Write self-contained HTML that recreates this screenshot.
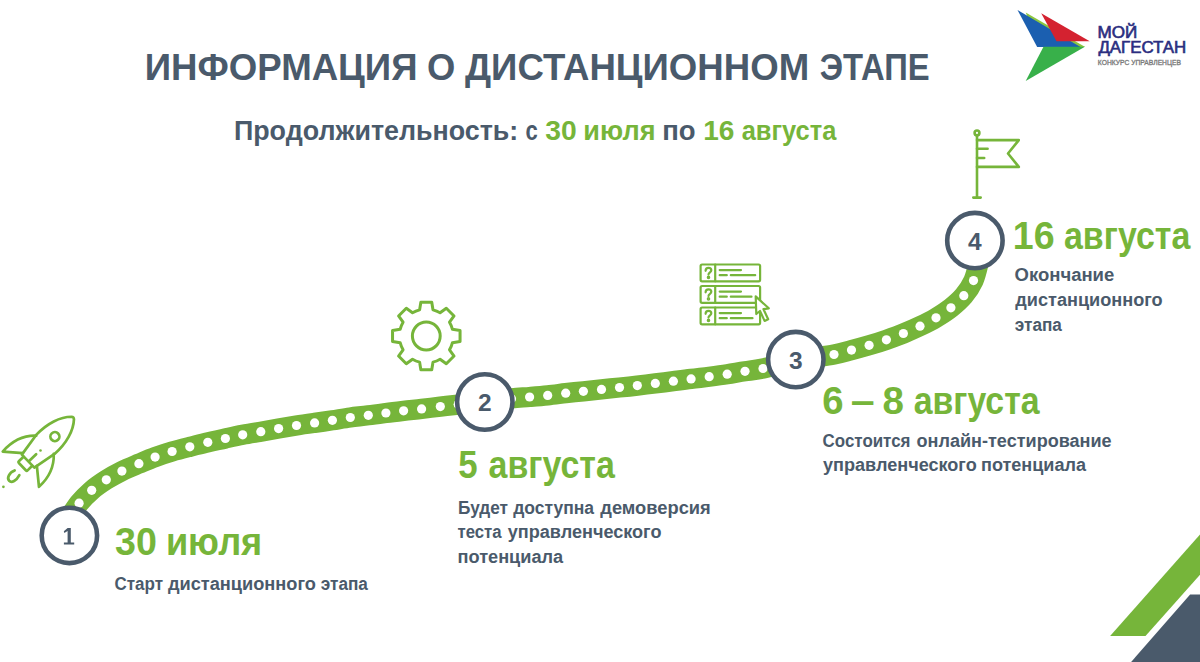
<!DOCTYPE html>
<html><head><meta charset="utf-8"><style>
html,body{margin:0;padding:0;background:#fff;width:1200px;height:662px;overflow:hidden}
svg{display:block}
text{font-family:"Liberation Sans",sans-serif;font-weight:bold}
</style></head><body>
<svg width="1200" height="662" viewBox="0 0 1200 662">
<path d="M67.5,520.5 C69.4,517.6 75.1,508.2 79.1,503.2 C83.1,498.2 87.2,494.2 91.7,490.3 C96.2,486.4 101.3,483.0 106.3,479.8 C111.3,476.6 116.5,473.8 121.9,471.1 C127.3,468.4 133.4,466.0 138.9,463.7 C144.4,461.4 149.6,459.1 155.1,457.1 C160.6,455.1 166.3,453.2 172.1,451.5 C177.9,449.8 183.9,448.3 189.8,446.8 C195.8,445.3 201.9,443.7 207.8,442.3 C213.7,440.9 219.6,439.8 225.4,438.5 C231.2,437.2 236.8,435.9 242.7,434.8 C248.6,433.7 254.8,432.7 260.8,431.7 C266.8,430.7 272.7,429.6 278.6,428.6 C284.6,427.6 290.5,426.5 296.5,425.5 C302.5,424.5 308.6,423.7 314.6,422.9 C320.6,422.0 326.4,421.2 332.4,420.3 C338.3,419.4 344.3,418.3 350.3,417.5 C356.3,416.7 362.4,416.1 368.3,415.3 C374.2,414.6 380.0,413.8 385.9,413.0 C391.8,412.2 397.7,411.5 403.6,410.8 C409.6,410.1 415.5,409.6 421.6,408.9 C427.7,408.2 434.2,407.4 440.3,406.6 C446.4,405.9 450.9,405.4 458.3,404.6 C465.7,403.8 475.9,402.7 484.8,401.6 C493.7,400.6 504.0,399.1 511.5,398.3 C519.0,397.5 523.6,397.5 529.6,397.0 C535.6,396.5 541.7,396.0 547.7,395.4 C553.7,394.8 559.8,393.9 565.7,393.2 C571.7,392.5 577.4,391.9 583.4,391.3 C589.4,390.7 595.5,390.0 601.5,389.4 C607.5,388.8 613.5,388.1 619.5,387.5 C625.5,386.9 631.3,386.3 637.3,385.6 C643.3,384.9 649.3,384.1 655.3,383.4 C661.3,382.7 667.4,381.9 673.4,381.2 C679.4,380.4 685.1,379.6 691.1,378.9 C697.1,378.1 703.2,377.5 709.2,376.7 C715.2,375.9 721.2,375.1 727.2,374.2 C733.2,373.3 739.0,372.2 745.0,371.3 C751.0,370.4 754.5,370.3 763.0,368.5 C771.5,366.7 784.0,362.8 795.8,360.5 C807.6,358.2 824.7,356.2 834.0,354.5 C843.3,352.8 845.6,351.6 851.5,350.1 C857.4,348.6 863.3,347.0 869.1,345.3 C874.9,343.6 880.7,341.8 886.4,339.8 C892.1,337.8 897.8,335.8 903.4,333.5 C909.0,331.2 914.6,328.8 920.0,326.2 C925.4,323.6 930.9,320.9 936.0,317.8 C941.1,314.7 946.3,311.5 950.9,307.8 C955.5,304.1 960.0,300.2 963.8,295.7 C967.6,291.2 971.0,286.2 973.5,280.6 C976.0,275.0 977.6,267.1 978.8,262.0 C980.0,256.9 980.2,252.0 980.5,250.0" fill="none" stroke="#76b53a" stroke-width="20.3"/>
<g fill="#fff"><circle cx="79.1" cy="503.2" r="4.6"/><circle cx="91.7" cy="490.3" r="4.6"/><circle cx="106.3" cy="479.8" r="4.6"/><circle cx="121.9" cy="471.1" r="4.6"/><circle cx="138.9" cy="463.7" r="4.6"/><circle cx="155.1" cy="457.1" r="4.6"/><circle cx="172.1" cy="451.5" r="4.6"/><circle cx="189.8" cy="446.8" r="4.6"/><circle cx="207.8" cy="442.3" r="4.6"/><circle cx="225.4" cy="438.5" r="4.6"/><circle cx="242.7" cy="434.8" r="4.6"/><circle cx="260.8" cy="431.7" r="4.6"/><circle cx="278.6" cy="428.6" r="4.6"/><circle cx="296.5" cy="425.5" r="4.6"/><circle cx="314.6" cy="422.9" r="4.6"/><circle cx="332.4" cy="420.3" r="4.6"/><circle cx="350.3" cy="417.5" r="4.6"/><circle cx="368.3" cy="415.3" r="4.6"/><circle cx="385.9" cy="413.0" r="4.6"/><circle cx="403.6" cy="410.8" r="4.6"/><circle cx="421.6" cy="408.9" r="4.6"/><circle cx="440.3" cy="406.6" r="4.6"/><circle cx="458.3" cy="404.6" r="4.6"/><circle cx="529.6" cy="397.0" r="4.6"/><circle cx="547.7" cy="395.4" r="4.6"/><circle cx="565.7" cy="393.2" r="4.6"/><circle cx="583.4" cy="391.3" r="4.6"/><circle cx="601.5" cy="389.4" r="4.6"/><circle cx="619.5" cy="387.5" r="4.6"/><circle cx="637.3" cy="385.6" r="4.6"/><circle cx="655.3" cy="383.4" r="4.6"/><circle cx="673.4" cy="381.2" r="4.6"/><circle cx="691.1" cy="378.9" r="4.6"/><circle cx="709.2" cy="376.7" r="4.6"/><circle cx="727.2" cy="374.2" r="4.6"/><circle cx="745.0" cy="371.3" r="4.6"/><circle cx="763.0" cy="368.5" r="4.6"/><circle cx="834.0" cy="354.5" r="4.6"/><circle cx="851.5" cy="350.1" r="4.6"/><circle cx="869.1" cy="345.3" r="4.6"/><circle cx="886.4" cy="339.8" r="4.6"/><circle cx="903.4" cy="333.5" r="4.6"/><circle cx="920.0" cy="326.2" r="4.6"/><circle cx="936.0" cy="317.8" r="4.6"/><circle cx="950.9" cy="307.8" r="4.6"/><circle cx="963.8" cy="295.7" r="4.6"/><circle cx="973.5" cy="280.6" r="4.6"/><circle cx="458.3" cy="404.6" r="4.6"/><circle cx="511.5" cy="398.8" r="4.6"/></g>
<circle cx="69.4" cy="535.4" r="27.7" fill="#fff" stroke="#4a5a6b" stroke-width="4.6"/><polygon points="67.6,528 70.8,528 70.8,542.5 74.2,542.5 74.2,544.6 63.9,544.6 63.9,542.5 67.6,542.5 67.6,531 64.4,533.1 63.8,531.3" fill="#4a5a6b"/><circle cx="484.8" cy="402.0" r="27.7" fill="#fff" stroke="#4a5a6b" stroke-width="4.6"/><text x="484.8" y="411.0" font-size="24.5" text-anchor="middle" fill="#4a5a6b">2</text><circle cx="795.8" cy="359.6" r="27.7" fill="#fff" stroke="#4a5a6b" stroke-width="4.6"/><text x="795.8" y="368.6" font-size="24.5" text-anchor="middle" fill="#4a5a6b">3</text><circle cx="974.9" cy="240.6" r="27.7" fill="#fff" stroke="#4a5a6b" stroke-width="4.6"/><text x="974.9" y="249.6" font-size="24.5" text-anchor="middle" fill="#4a5a6b">4</text>
<text x="144.76" y="80.30" font-size="37.60" textLength="272.70" lengthAdjust="spacingAndGlyphs" fill="#4a5a6b" >ИНФОРМАЦИЯ</text>
<text x="426.99" y="80.30" font-size="37.60" textLength="28.29" lengthAdjust="spacingAndGlyphs" fill="#4a5a6b" >О</text>
<text x="465.01" y="80.30" font-size="37.60" textLength="344.15" lengthAdjust="spacingAndGlyphs" fill="#4a5a6b" >ДИСТАНЦИОННОМ</text>
<text x="819.76" y="80.30" font-size="37.60" textLength="109.94" lengthAdjust="spacingAndGlyphs" fill="#4a5a6b" >ЭТАПЕ</text>
<text x="233.93" y="140.00" font-size="28.00" textLength="284.34" lengthAdjust="spacingAndGlyphs" fill="#4a5a6b" >Продолжительность:</text>
<text x="525.43" y="140.00" font-size="28.00" textLength="12.25" lengthAdjust="spacingAndGlyphs" fill="#4a5a6b" >с</text>
<text x="545.31" y="140.00" font-size="28.00" textLength="31.46" lengthAdjust="spacingAndGlyphs" fill="#76b53a" >30</text>
<text x="583.33" y="140.00" font-size="28.00" textLength="72.15" lengthAdjust="spacingAndGlyphs" fill="#76b53a" >июля</text>
<text x="662.18" y="140.00" font-size="28.00" textLength="33.40" lengthAdjust="spacingAndGlyphs" fill="#4a5a6b" >по</text>
<text x="703.23" y="140.00" font-size="28.00" textLength="31.20" lengthAdjust="spacingAndGlyphs" fill="#76b53a" >16</text>
<text x="741.63" y="140.00" font-size="28.00" textLength="94.72" lengthAdjust="spacingAndGlyphs" fill="#76b53a" >августа</text>
<text x="115.09" y="554.80" font-size="38.30" textLength="41.87" lengthAdjust="spacingAndGlyphs" fill="#76b53a" >30</text>
<text x="165.89" y="554.80" font-size="38.30" textLength="96.37" lengthAdjust="spacingAndGlyphs" fill="#76b53a" >июля</text>
<text x="458.28" y="477.80" font-size="38.30" textLength="19.36" lengthAdjust="spacingAndGlyphs" fill="#76b53a" >5</text>
<text x="488.57" y="477.80" font-size="38.30" textLength="126.32" lengthAdjust="spacingAndGlyphs" fill="#76b53a" >августа</text>
<text x="822.29" y="413.50" font-size="38.30" textLength="21.31" lengthAdjust="spacingAndGlyphs" fill="#76b53a" >6</text>
<text x="850.70" y="413.50" font-size="38.30" textLength="23.94" lengthAdjust="spacingAndGlyphs" fill="#76b53a" >–</text>
<text x="882.47" y="413.50" font-size="38.30" textLength="21.44" lengthAdjust="spacingAndGlyphs" fill="#76b53a" >8</text>
<text x="913.68" y="413.50" font-size="38.30" textLength="125.91" lengthAdjust="spacingAndGlyphs" fill="#76b53a" >августа</text>
<text x="1012.83" y="248.80" font-size="38.30" textLength="41.79" lengthAdjust="spacingAndGlyphs" fill="#76b53a" >16</text>
<text x="1063.97" y="248.80" font-size="38.30" textLength="126.42" lengthAdjust="spacingAndGlyphs" fill="#76b53a" >августа</text>
<text x="114.50" y="589.60" font-size="19.20" textLength="48.48" lengthAdjust="spacingAndGlyphs" fill="#4a5a6b" >Старт</text>
<text x="167.90" y="589.60" font-size="19.20" textLength="148.08" lengthAdjust="spacingAndGlyphs" fill="#4a5a6b" >дистанционного</text>
<text x="320.72" y="589.60" font-size="19.20" textLength="47.16" lengthAdjust="spacingAndGlyphs" fill="#4a5a6b" >этапа</text>
<text x="458.05" y="513.60" font-size="19.20" textLength="49.95" lengthAdjust="spacingAndGlyphs" fill="#4a5a6b" >Будет</text>
<text x="513.18" y="513.60" font-size="19.20" textLength="80.94" lengthAdjust="spacingAndGlyphs" fill="#4a5a6b" >доступна</text>
<text x="600.27" y="513.60" font-size="19.20" textLength="110.47" lengthAdjust="spacingAndGlyphs" fill="#4a5a6b" >демоверсия</text>
<text x="457.52" y="538.00" font-size="19.20" textLength="44.07" lengthAdjust="spacingAndGlyphs" fill="#4a5a6b" >теста</text>
<text x="507.73" y="538.00" font-size="19.20" textLength="153.74" lengthAdjust="spacingAndGlyphs" fill="#4a5a6b" >управленческого</text>
<text x="457.55" y="563.00" font-size="19.20" textLength="105.59" lengthAdjust="spacingAndGlyphs" fill="#4a5a6b" >потенциала</text>
<text x="822.62" y="446.60" font-size="19.20" textLength="87.85" lengthAdjust="spacingAndGlyphs" fill="#4a5a6b" >Состоится</text>
<text x="916.59" y="446.60" font-size="19.20" textLength="195.06" lengthAdjust="spacingAndGlyphs" fill="#4a5a6b" >онлайн-тестирование</text>
<text x="823.03" y="471.10" font-size="19.20" textLength="153.69" lengthAdjust="spacingAndGlyphs" fill="#4a5a6b" >управленческого</text>
<text x="981.06" y="471.10" font-size="19.20" textLength="104.93" lengthAdjust="spacingAndGlyphs" fill="#4a5a6b" >потенциала</text>
<text x="1014.54" y="281.00" font-size="19.20" textLength="99.74" lengthAdjust="spacingAndGlyphs" fill="#4a5a6b" >Окончание</text>
<text x="1015.30" y="305.70" font-size="19.20" textLength="147.28" lengthAdjust="spacingAndGlyphs" fill="#4a5a6b" >дистанционного</text>
<text x="1014.77" y="330.60" font-size="19.20" textLength="47.11" lengthAdjust="spacingAndGlyphs" fill="#4a5a6b" >этапа</text>
<text x="1097.52" y="38.10" font-size="15.80" textLength="39.77" lengthAdjust="spacingAndGlyphs" fill="#2b2e80" style="font-weight:normal" stroke="#2b2e80" stroke-width="0.6">МОЙ</text>
<text x="1098.41" y="52.60" font-size="15.80" textLength="87.80" lengthAdjust="spacingAndGlyphs" fill="#2b2e80" style="font-weight:normal" stroke="#2b2e80" stroke-width="0.6">ДАГЕСТАН</text>
<text x="1097.87" y="64.90" font-size="6.70" textLength="83.06" lengthAdjust="spacingAndGlyphs" fill="#7a7a7a" style="font-weight:normal" stroke="#7a7a7a" stroke-width="0.3">КОНКУРС УПРАВЛЕНЦЕВ</text>

<g transform="translate(28.1,461.1) rotate(-44)" fill="none" stroke="#76b53a" stroke-width="2.7" stroke-linecap="round" stroke-linejoin="round">
<path d="M0,-9 L24,-13.2 C40,-14 54,-9.5 62,-1.8 Q63.6,0 62,1.8 C54,9.5 40,14 24,13.2 L0,9 Z"/>
<path d="M-0.3,-6.3 L-6.8,-6.3 Q-8,-6.3 -8,-5 L-8,5 Q-8,6.3 -6.8,6.3 L-0.3,6.3"/>
<circle cx="36.3" cy="1" r="4.5"/>
<path d="M23.5,-12.6 C15,-21.5 2,-25.5 -11.6,-24.5 L1.8,-9.3"/>
<path d="M23.5,12.6 C15,22 3,26.5 -10,26 L3,9.5"/>
<path d="M1.2,0.6 L10.6,0.6"/>
<path d="M-16.2,-2.6 C-22,-5 -27.3,-2.5 -27.3,1 C-27.3,4.5 -22,6 -16,4"/>
</g>
<circle cx="40.5" cy="450.5" r="1.3" fill="#76b53a"/>
<circle cx="3.4" cy="486.8" r="1.35" fill="#76b53a"/>
<g fill="none" stroke="#76b53a" stroke-width="3.0" stroke-linejoin="round"><path d="M419.62,309.84 L420.85,302.24 L431.75,302.24 L432.98,309.84 A27.00,27.00 0 0 1 440.07,312.78 L446.32,308.27 L454.03,315.98 L449.52,322.23 A27.00,27.00 0 0 1 452.46,329.32 L460.06,330.55 L460.06,341.45 L452.46,342.68 A27.00,27.00 0 0 1 449.52,349.77 L454.03,356.02 L446.32,363.73 L440.07,359.22 A27.00,27.00 0 0 1 432.98,362.16 L431.75,369.76 L420.85,369.76 L419.62,362.16 A27.00,27.00 0 0 1 412.53,359.22 L406.28,363.73 L398.57,356.02 L403.08,349.77 A27.00,27.00 0 0 1 400.14,342.68 L392.54,341.45 L392.54,330.55 L400.14,329.32 A27.00,27.00 0 0 1 403.08,322.23 L398.57,315.98 L406.28,308.27 L412.53,312.78 A27.00,27.00 0 0 1 419.62,309.84 Z"/><circle cx="426.3" cy="336.0" r="13.9"/></g>
<g fill="none" stroke="#76b53a" stroke-width="2.2" stroke-linecap="round" stroke-linejoin="round"><rect x="700.6" y="264.5" width="59.5" height="16.8" rx="1.5"/><path d="M715.2,264.5 V281.3"/><path d="M719.7,270.1 H741 M719.7,275.2 H726.8 M730.8,275.2 H755.2"/><path d="M705.6,270.8 c0,-2 1.3,-3 2.9,-3 c1.6,0 2.8,1 2.8,2.5 c0,2 -2.8,2 -2.8,4.3"/><circle cx="708.5" cy="277.4" r="0.7" fill="#76b53a"/><rect x="700.6" y="286.0" width="59.5" height="16.8" rx="1.5"/><path d="M715.2,286.0 V302.8"/><path d="M719.7,291.6 H741 M719.7,296.7 H726.8 M730.8,296.7 H751.5"/><path d="M705.6,292.3 c0,-2 1.3,-3 2.9,-3 c1.6,0 2.8,1 2.8,2.5 c0,2 -2.8,2 -2.8,4.3"/><circle cx="708.5" cy="298.9" r="0.7" fill="#76b53a"/><rect x="700.6" y="307.5" width="59.5" height="16.8" rx="1.5"/><path d="M715.2,307.5 V324.3"/><path d="M719.7,313.1 H741 M719.7,318.2 H726.8 M730.8,318.2 H752.5"/><path d="M705.6,313.8 c0,-2 1.3,-3 2.9,-3 c1.6,0 2.8,1 2.8,2.5 c0,2 -2.8,2 -2.8,4.3"/><circle cx="708.5" cy="320.4" r="0.7" fill="#76b53a"/></g>
<path d="M755.7,296.4 L768.8,308.3 L763.5,309.2 L768.2,319.2 L764.6,320.9 L760,311 L756.3,314 Z" fill="#fff" stroke="#76b53a" stroke-width="2.2" stroke-linejoin="round"/>
<g fill="none" stroke="#76b53a" stroke-width="2.6" stroke-linecap="round" stroke-linejoin="round">
<circle cx="977" cy="132.9" r="2.4"/>
<path d="M977,135.5 V197.4 M973.3,197.6 H980.7"/>
<path d="M977,140.1 H1018.8 L1008,153.5 L1018.8,166.9 H977"/>
<path d="M977,148.8 H987.6 M977,158 H984.2"/>
</g>
<polygon points="1025.7,12.5 1085.2,46.9 1040,46.9" fill="#8cc63f"/>
<polygon points="1017.5,10.1 1037.2,46.9 1080.5,46.9" fill="#1b5fb0"/>
<polygon points="1041.2,13.2 1056.5,41.2 1089.7,41.2" fill="#d42230"/>
<polygon points="1043.5,46.7 1084.9,46.7 1025.7,81.1" fill="#38b04a"/>
<polygon points="1110.1,635.9 1145.5,635.9 1200,574.7 1200,534.6" fill="#76b53a"/>
<polygon points="1190.1,594.5 1200,594.5 1200,662 1131.1,662" fill="#4a5a6b"/>
</svg></body></html>
